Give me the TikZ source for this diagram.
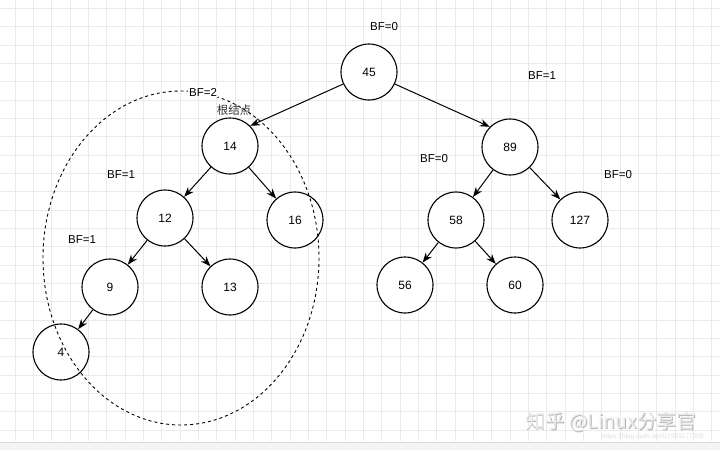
\documentclass[tikz,border=0pt]{standalone}
\usepackage{fontspec}
\setmainfont{Liberation Sans}
\newfontfamily\cjk{Noto Sans CJK SC}
\usetikzlibrary{arrows.meta}
\definecolor{gridc}{RGB}{234,234,234}
\definecolor{bandc}{RGB}{244,244,244}
\tikzset{
  tnode/.style={circle, draw=black, line width=1.1pt, minimum size=56pt, inner sep=0pt, font=\fontsize{12}{14}\selectfont, fill=white},
  edge/.style={line width=1pt, -{Stealth[length=10pt,width=7.5pt]}},
  bf/.style={font=\fontsize{11.5}{13}\selectfont, inner sep=1pt},
}
\begin{document}
\begin{tikzpicture}[x=1pt,y=-1pt]
\useasboundingbox (0,0) rectangle (720,450);
\fill[white] (0,0) rectangle (720,450);
% grid
\foreach \i in {0,...,40} {
  \draw[gridc, line width=0.8pt] ({-3.33+18.333*\i},0) -- ({-3.33+18.333*\i},441);
}
\foreach \j in {0,...,23} {
  \draw[gridc, line width=0.8pt] (0,{8.33+18.333*\j}) -- (720,{8.33+18.333*\j});
}
\fill[bandc] (0,442) rectangle (720,450);
\draw[gray!30, line width=0.8pt] (0,442) -- (720,442);

% nodes
\node[tnode] (n45) at (369,72) {45};
\node[tnode] (n14) at (230,146) {14};
\node[tnode] (n89) at (510,147) {89};
\node[tnode] (n12) at (165,218) {12};
\node[tnode] (n16) at (295,220) {16};
\node[tnode] (n58) at (456,220) {58};
\node[tnode] (n127) at (580,220) {127};
\node[tnode] (n9) at (110,287) {9};
\node[tnode] (n13) at (230,287) {13};
\node[tnode] (n56) at (405,285) {56};
\node[tnode] (n60) at (515,285) {60};
\node[tnode] (n4) at (61,352) {4};

% edges
\draw[edge] (n45.205) -- (n14.45);
\draw[edge] (n45.-25) -- (n89.135);
\draw[edge] (n14) -- (n12);
\draw[edge] (n14) -- (n16);
\draw[edge] (n12) -- (n9);
\draw[edge] (n12) -- (n13);
\draw[edge] (n9) -- (n4);
\draw[edge] (n89) -- (n58);
\draw[edge] (n89) -- (n127);
\draw[edge] (n58) -- (n56);
\draw[edge] (n58) -- (n60);

% dashed ellipse (drawn over the nodes)
\draw[dashed, dash pattern=on 3pt off 3pt, line width=0.9pt] (181,258) ellipse [x radius=138, y radius=167];

% labels
\node[bf] (l45) at (384,27) {BF=0};
\node[bf] (l89) at (542,76) {BF=1};
\node[bf, fill=white] (l14) at (203,92) {BF=2};
\node[font=\cjk\fontsize{11.5}{13}\selectfont, text=black!80, inner sep=1pt] (root) at (234,110) {根结点};
\node[bf] (l12) at (121,175) {BF=1};
\node[bf] (l58) at (434,159) {BF=0};
\node[bf] (l127) at (618,175) {BF=0};
\node[bf] (l9) at (82,240) {BF=1};

% watermark
\node[font=\cjk\fontsize{19.5}{22}\selectfont, text=gray!60, inner sep=0pt] (wm0) at (611.8,422.8) {知乎 @Linux分享官};
\node[font=\cjk\fontsize{19.5}{22}\selectfont, text=gray!15, inner sep=0pt] (wm) at (611,422) {知乎 @Linux分享官};
\node[font=\fontsize{6.5}{7}\selectfont, text=gray!25, inner sep=0pt] (url) at (653,437) {https://blog.csdn.net/G1933177205};
\end{tikzpicture}
\end{document}
